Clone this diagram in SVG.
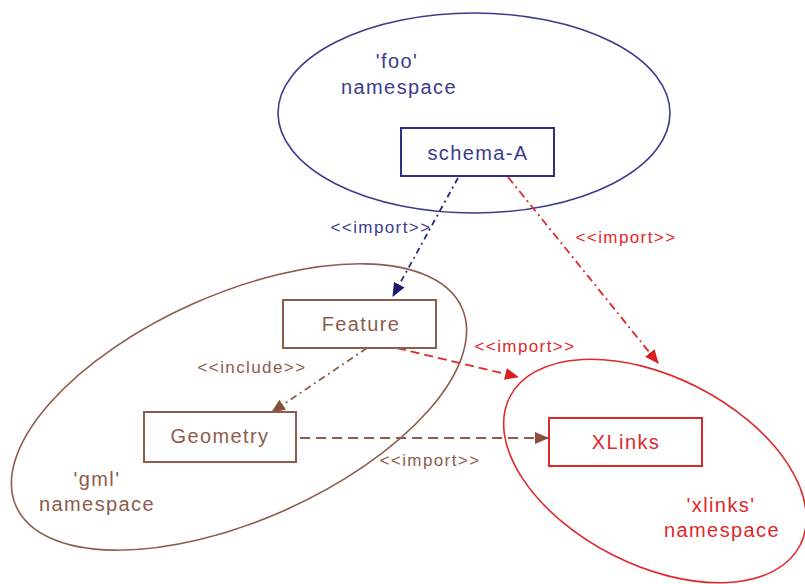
<svg xmlns="http://www.w3.org/2000/svg" width="805" height="584" viewBox="0 0 805 584">
<style>
text{font-family:"Liberation Sans",Arial,sans-serif;}
.lbl{font-size:20px;letter-spacing:1.4px;}
.st{font-size:17px;letter-spacing:1.4px;}
.navy{fill:#3c3c8e;}
.red{fill:#e0282a;}
.brown{fill:#8e5c4c;}
.box{fill:#ffffff;stroke-width:2;}
.ell{fill:none;stroke-width:1.6;}
.ln{fill:none;stroke-width:1.8;}
</style>
<defs>
<marker id="aN" markerWidth="14" markerHeight="12" refX="13" refY="6" orient="auto" markerUnits="userSpaceOnUse"><path d="M0,0 L14,6 L0,12 z" fill="#1e1a70"/></marker>
<marker id="aR" markerWidth="14" markerHeight="12" refX="13" refY="6" orient="auto" markerUnits="userSpaceOnUse"><path d="M0,0 L14,6 L0,12 z" fill="#d8201e"/></marker>
<marker id="aB" markerWidth="14" markerHeight="12" refX="13" refY="6" orient="auto" markerUnits="userSpaceOnUse"><path d="M0,0 L14,6 L0,12 z" fill="#8a4f3c"/></marker>
</defs>
<rect width="805" height="584" fill="#ffffff"/>
<g id="foo-namespace">
<ellipse class="ell" cx="474" cy="113" rx="196" ry="100" stroke="#3c3c8e"/>
<text class="lbl navy" x="397" y="68" text-anchor="middle">'foo'</text>
<text class="lbl navy" x="399" y="94" text-anchor="middle">namespace</text>
</g>
<g id="gml-namespace">
<ellipse class="ell" cx="239" cy="407" rx="244" ry="113" transform="rotate(-24 239 407)" stroke="#8e5c4c"/>
<text class="lbl brown" x="97" y="486" text-anchor="middle">'gml'</text>
<text class="lbl brown" x="97" y="511" text-anchor="middle">namespace</text>
</g>
<g id="xlinks-namespace">
<ellipse class="ell" cx="655" cy="471" rx="163" ry="94" transform="rotate(27 655 471)" stroke="#e0282a"/>
<text class="lbl red" x="721" y="512" text-anchor="middle">'xlinks'</text>
<text class="lbl red" x="722" y="537" text-anchor="middle">namespace</text>
</g>
<g id="connectors">
<line class="ln" x1="458" y1="178" x2="393" y2="296" stroke="#2a2a80" stroke-dasharray="6 4 2 4" marker-end="url(#aN)"/>
<line class="ln" x1="508" y1="177" x2="658" y2="363" stroke="#e0282a" stroke-dasharray="8 4 2 4" marker-end="url(#aR)"/>
<line class="ln" x1="397" y1="348" x2="518" y2="377" stroke="#e0282a" stroke-dasharray="9 5" marker-end="url(#aR)"/>
<line class="ln" x1="367" y1="348" x2="272" y2="412" stroke="#8e5c4c" stroke-dasharray="7 4 2 4" marker-end="url(#aB)"/>
<line class="ln" x1="300" y1="438" x2="548" y2="438" stroke="#8e5c4c" stroke-dasharray="10 6" marker-end="url(#aB)"/>
<text class="st navy" x="381" y="233" text-anchor="middle">&lt;&lt;import&gt;&gt;</text>
<text class="st red" x="626" y="243" text-anchor="middle">&lt;&lt;import&gt;&gt;</text>
<text class="st red" x="525" y="352" text-anchor="middle">&lt;&lt;import&gt;&gt;</text>
<text class="st brown" x="252" y="373" text-anchor="middle">&lt;&lt;include&gt;&gt;</text>
<text class="st brown" x="430" y="466" text-anchor="middle">&lt;&lt;import&gt;&gt;</text>
</g>
<g id="schema-A">
<rect class="box" x="401" y="128" width="153" height="48" stroke="#2e2e82"/>
<text class="lbl navy" x="478" y="160" text-anchor="middle">schema-A</text>
</g>
<g id="Feature">
<rect class="box" x="283" y="300" width="153" height="48" stroke="#8e5c4c"/>
<text class="lbl brown" x="361" y="331" text-anchor="middle">Feature</text>
</g>
<g id="Geometry">
<rect class="box" x="144" y="412" width="152" height="50" stroke="#8e5c4c"/>
<text class="lbl brown" x="220" y="443" text-anchor="middle">Geometry</text>
</g>
<g id="XLinks">
<rect class="box" x="549" y="418" width="153" height="48" stroke="#e0282a"/>
<text class="lbl red" x="626" y="449" text-anchor="middle">XLinks</text>
</g>
</svg>
